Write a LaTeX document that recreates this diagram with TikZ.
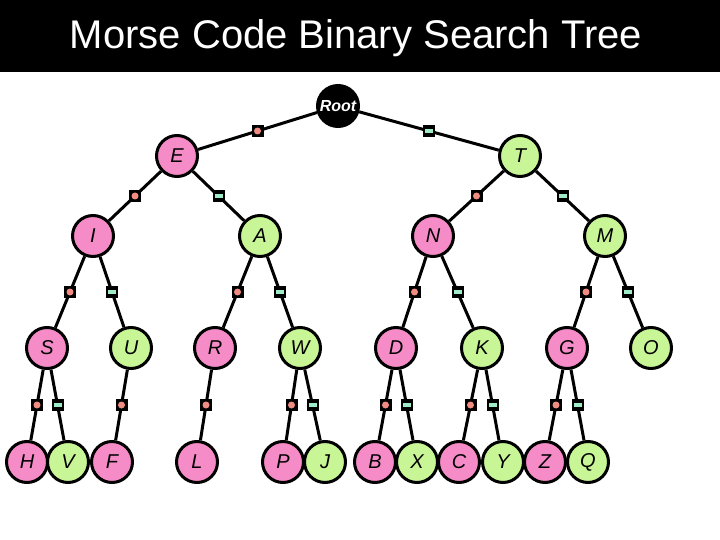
\documentclass[tikz,border=0pt]{standalone}
\usepackage{fontspec}
\setmainfont{Liberation Sans}
\definecolor{dotpink}{RGB}{245,140,200}
\definecolor{dashgreen}{RGB}{200,245,150}
\definecolor{salmon}{RGB}{240,140,130}
\definecolor{mint}{RGB}{160,235,200}
\tikzset{
  letter/.style={shape=circle,draw,line width=3pt,minimum size=41pt,inner sep=0pt,
                 font=\fontsize{20}{24}\selectfont\itshape},
  dotnode/.style={letter,fill=dotpink},
  dashnode/.style={letter,fill=dashgreen},
  dotmark/.style={fill=black,minimum size=12pt,inner sep=0pt,
                  path picture={\fill[salmon] (path picture bounding box.center) circle (3.5pt);}},
  dashmark/.style={fill=black,minimum size=12pt,inner sep=0pt,
                   path picture={\fill[mint] ([shift={(-4pt,-2pt)}]path picture bounding box.center) rectangle ++(8pt,4pt);}},
  edge/.style={line width=3pt}
}
\begin{document}
\begin{tikzpicture}[x=1pt,y=-1pt]
\useasboundingbox (0,0) rectangle (720,540);
\fill[black] (0,0) rectangle (720,72);
\node[white,font=\fontsize{40}{44}\selectfont] (title) at (356,38) {Morse Code Binary Search Tree};
% levels of the tree
\node[letter,fill=black,text=white,font=\fontsize{16}{18}\selectfont\bfseries\itshape] (root) at (338,106) {Root};
\node[dotnode] (E) at (177,156) {E};
\node[dashnode] (T) at (520,156) {T};
\node[dotnode] (I) at (93,236) {I};
\node[dashnode] (A) at (260,236) {A};
\node[dotnode] (N) at (433,236) {N};
\node[dashnode] (M) at (605,236) {M};
\node[dotnode] (S) at (47,348) {S};
\node[dashnode] (U) at (131,348) {U};
\node[dotnode] (R) at (215,348) {R};
\node[dashnode] (W) at (300,348) {W};
\node[dotnode] (D) at (396,348) {D};
\node[dashnode] (K) at (482,348) {K};
\node[dotnode] (G) at (567,348) {G};
\node[dashnode] (O) at (651,348) {O};
\node[dotnode] (H) at (27,462) {H};
\node[dashnode] (V) at (68,462) {V};
\node[dotnode] (F) at (112,462) {F};
\node[dotnode] (L) at (197,462) {L};
\node[dotnode] (P) at (283,462) {P};
\node[dashnode] (J) at (325,462) {J};
\node[dotnode] (B) at (375,462) {B};
\node[dashnode] (X) at (417,462) {X};
\node[dotnode] (C) at (459,462) {C};
\node[dashnode] (Y) at (503,462) {Y};
\node[dotnode] (Z) at (545,462) {Z};
\node[dashnode] (Q) at (588,462) {Q};
% dot edges
\foreach \a/\b in {root/E,E/I,T/N,I/S,A/R,N/D,M/G,S/H,U/F,R/L,W/P,D/B,K/C,G/Z}
    \draw[edge] (\a) -- node[dotmark]{} (\b);
% dash edges
\foreach \a/\b in {root/T,E/A,T/M,I/U,A/W,N/K,M/O,S/V,W/J,D/X,K/Y,G/Q}
    \draw[edge] (\a) -- node[dashmark]{} (\b);
\end{tikzpicture}
\end{document}
